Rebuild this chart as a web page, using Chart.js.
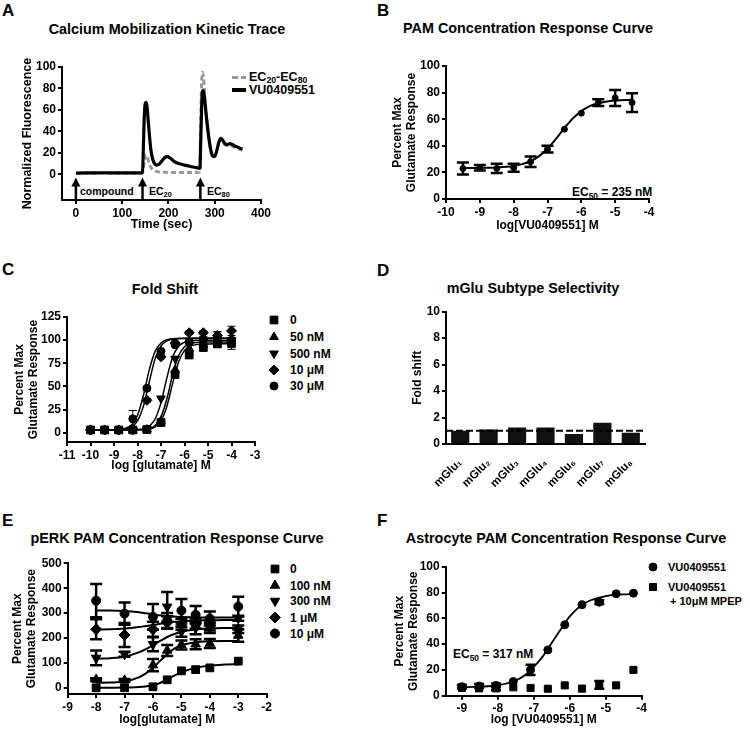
<!DOCTYPE html>
<html>
<head>
<meta charset="utf-8">
<script src="https://cdn.jsdelivr.net/npm/chart.js@4.4.1/dist/chart.umd.min.js"></script>
<style>
  html, body { margin: 0; padding: 0; background: #fff; }
  body { width: 750px; height: 731px; position: relative; overflow: hidden;
         font-family: "Liberation Sans", Arial, sans-serif; font-weight: bold; color: #000; }
  canvas { position: absolute; }
  .t { position: absolute; white-space: nowrap; line-height: 1; }
  .letter { font-size: 17px; transform: translateY(-50%); }
  .title { font-size: 14.4px; transform: translate(-50%, -50%); }
  .lab { font-size: 12px; transform: translateY(-50%); }
  .small { font-size: 10.5px; }
  sub { font-size: 70%; vertical-align: -0.3em; line-height: 0; }
  .swatch { position: absolute; height: 3px; width: 14px; }
</style>
</head>
<body>

<!-- panel letters -->
<div class="t letter" style="left:2px;top:10px">A</div>
<div class="t letter" style="left:377px;top:10px">B</div>
<div class="t letter" style="left:2px;top:269px">C</div>
<div class="t letter" style="left:377px;top:270px">D</div>
<div class="t letter" style="left:2px;top:520px">E</div>
<div class="t letter" style="left:377px;top:520px">F</div>

<!-- panel titles -->
<div class="t title" style="left:167px;top:29px">Calcium Mobilization Kinetic Trace</div>
<div class="t title" style="left:528px;top:28px">PAM Concentration Response Curve</div>
<div class="t title" style="left:165px;top:289px">Fold Shift</div>
<div class="t title" style="left:533px;top:288px">mGlu Subtype Selectivity</div>
<div class="t title" style="left:177px;top:538px">pERK PAM Concentration Response Curve</div>
<div class="t title" style="left:566px;top:538px">Astrocyte PAM Concentration Response Curve</div>

<!-- A legend and addition labels -->
<div class="swatch" style="left:232px;top:76px;background:repeating-linear-gradient(90deg,#999 0 6px,transparent 6px 9px)"></div>
<div class="t lab" style="left:249px;top:77px;font-size:12.5px">EC<sub>20</sub>-EC<sub>80</sub></div>
<div class="swatch" style="left:232px;top:88px;height:3.5px;background:#000"></div>
<div class="t lab" style="left:249px;top:90px;font-size:12.5px">VU0409551</div>
<div class="t lab small" style="left:80px;top:191px">compound</div>
<div class="t lab small" style="left:149px;top:191px">EC<sub>20</sub></div>
<div class="t lab small" style="left:207px;top:191px">EC<sub>80</sub></div>

<!-- B / F potency notes -->
<div class="t lab" style="left:572px;top:192px">EC<sub>50</sub> = 235 nM</div>
<div class="t lab" style="left:453px;top:654px">EC<sub>50</sub> = 317 nM</div>

<!-- C legend labels -->
<div class="t lab" style="left:290px;top:320px">0</div>
<div class="t lab" style="left:290px;top:337px">50 nM</div>
<div class="t lab" style="left:290px;top:353.5px">500 nM</div>
<div class="t lab" style="left:290px;top:370px">10 μM</div>
<div class="t lab" style="left:290px;top:386px">30 μM</div>

<!-- E legend labels -->
<div class="t lab" style="left:290px;top:569px">0</div>
<div class="t lab" style="left:290px;top:585.5px">100 nM</div>
<div class="t lab" style="left:290px;top:601px">300 nM</div>
<div class="t lab" style="left:290px;top:617.5px">1 μM</div>
<div class="t lab" style="left:290px;top:633.5px">10 μM</div>

<!-- F legend labels -->
<div class="t lab" style="left:668px;top:567px;font-size:11px">VU0409551</div>
<div class="t lab" style="left:668px;top:587px;font-size:11px">VU0409551</div>
<div class="t lab" style="left:670px;top:601px;font-size:11px">+ 10μM MPEP</div>

<script>
// ---------- A: calcium kinetic trace ----------
const kineticTimeVU = [0, 20, 40, 60, 80, 100, 120, 140, 144, 146, 148, 150, 152, 154, 156, 159, 162, 166,
  170, 175, 180, 186, 192, 198, 204, 212, 222, 235, 250, 262, 268, 270, 272, 274, 276, 278, 281, 285,
  289, 293, 297, 301, 305, 309, 313, 317, 321, 327, 333, 339, 345, 351, 356, 360];
const kineticVU = [1.0, 1.3, 1.2, 1.4, 1.2, 1.3, 1.2, 1.3, 1.6, 28, 56, 66, 67, 62, 51, 36, 23, 14,
  10, 8.5, 9.5, 12.5, 15.5, 16.5, 15, 12, 10, 8.5, 7, 6, 5.5, 35, 66, 78, 77, 71, 58, 42,
  29, 20, 16.5, 17.5, 23, 30, 33.5, 32, 29, 27.5, 28.5, 27.5, 26, 25, 24, 23.5];
const kineticTimeEC = [0, 20, 40, 60, 80, 100, 120, 140, 144, 147, 150, 152, 154, 157, 161, 166, 172, 180,
  195, 220, 245, 266, 268, 270, 272, 274, 276, 278, 281, 285, 289, 293, 297, 301, 305, 309, 313, 317,
  321, 327, 333, 339, 345, 351, 356, 360];
const kineticEC = [0.8, 1.0, 0.9, 1.1, 1.0, 1.0, 0.9, 1.0, 1.4, 9, 16, 18, 17, 12, 7, 4.5, 3, 2.2,
  1.8, 1.6, 1.6, 1.8, 6, 55, 88, 95, 89, 76, 58, 41, 28, 19, 15.5, 17, 22.5, 29.5, 32.5, 31,
  28, 26.5, 27, 26, 24.5, 23.5, 23, 22.5];
const additionTimes = [0, 144, 269];
const kineticTicksX = [0, 100, 200, 300, 400];
const kineticTicksY = [0, 20, 40, 60, 80, 100];

// ---------- B: PAM concentration response ----------
const crcLog = [-9.5, -9, -8.5, -8, -7.5, -7, -6.5, -6, -5.5, -5, -4.5];
const crcResp = [23, 23.5, 23, 23.5, 28, 37.5, 52.5, 64.5, 72.5, 76, 72.5];
const crcErr = [4.5, 2, 3.5, 3, 4, 2.5, 0, 0, 2.5, 6, 7];
const crcFitLog = [-9.5, -9, -8.5, -8, -7.75, -7.5, -7.25, -7, -6.75, -6.5, -6.25, -6, -5.75, -5.5, -5, -4.5];
const crcFit = [23.3, 23.4, 23.7, 24.8, 26.2, 28.4, 32.2, 37.8, 45.2, 53.3, 60.6, 66.1, 69.8, 72, 74, 74.6];

// ---------- C: fold shift ----------
const shiftLog = [-10, -9.4, -8.8, -8.2, -7.6, -7.0, -6.4, -5.8, -5.2, -4.6, -4.0];
const shift0 = [3, 3, 3, 3, 3.5, 11, 63, 84, 92, 96, 97];
const shift50n = [3, 3, 3, 3, 3.5, 13, 68, 91, 95, 98, 99];
const shift500n = [3, 3, 3, 3, 4, 37, 80, 95, 99, 100, 100];
const shift10u = [3, 3, 3, 4, 35, 82, 97, 108, 108, 105, 110];
const shift30u = [3, 3, 3, 15, 48, 88, 95, 98, 101, 103, 100];
const shiftErr0 = [0, 0, 0, 0, 0, 2, 3, 3, 3, 4, 5];
const shiftErr10u = [0, 0, 0, 0, 2, 2, 2, 2, 2, 4, 5];
const shiftErr30u = [0, 0, 0, 9, 2, 2, 2, 2, 3, 6, 10];
const shiftFitLog = [-10, -9, -8.5, -8.25, -8, -7.75, -7.5, -7.25, -7, -6.75, -6.5, -6.25, -6, -5.75, -5.5, -5, -4.5, -4];
const shiftFit0 = [3, 3, 3, 3, 3.1, 3.4, 4.1, 6.4, 13, 28.6, 53.8, 76.6, 88.9, 93.6, 95.2, 95.9, 96, 96];
const shiftFit50n = [3, 3, 3, 3, 3.2, 3.5, 4.6, 7.9, 17.1, 36.7, 63.3, 83.4, 92.8, 96.3, 97.5, 98, 98, 98];
const shiftFit500n = [3, 3, 3, 3.1, 3.4, 4.3, 7.1, 14.8, 32.5, 59.3, 82, 93.4, 97.8, 99.3, 99.8, 100, 100, 100];
const shiftFit10u = [3, 3.1, 4.1, 6.3, 12.8, 28.5, 54.8, 79.8, 93.7, 99.2, 101.1, 101.7, 101.9, 102, 102, 102, 102, 102];
const shiftFit30u = [3, 3.2, 4.9, 8.6, 18.8, 40.2, 67.9, 87.9, 97, 100.4, 101.5, 101.8, 102, 102, 102, 102, 102, 102];

// ---------- D: subtype selectivity ----------
const mGluSubtypes = ['mGlu₁', 'mGlu₂', 'mGlu₃', 'mGlu₄', 'mGlu₆', 'mGlu₇', 'mGlu₈'];
const foldShift = [1.0, 1.1, 1.25, 1.25, 0.75, 1.6, 0.85];
const noShift = 1;

// ---------- E: pERK ----------
const perkLog = [-8, -7, -6, -5.5, -5, -4.5, -4, -3];
const perk0 = [0, 0, 4, 32, 68, 73, 80, 107];
const perk100n = [33, 30, 91, 150, 172, 175, 178, 210];
const perk300n = [120, 135, 175, 325, 225, 240, 240, 279];
const perk1u = [235, 212, 235, 262, 255, 258, 250, 235];
const perk10u = [350, 298, 285, 270, 310, 293, 278, 326];
const perkErr100n = [5, 5, 25, 22, 18, 20, 18, 25];
const perkErr300n = [30, 10, 28, 60, 20, 25, 20, 10];
const perkErr1u = [40, 48, 30, 25, 22, 20, 20, 15];
const perkErr10u = [67, 45, 52, 30, 47, 35, 28, 40];
const perkFitLog = [-8, -7.5, -7, -6.5, -6.25, -6, -5.75, -5.5, -5.25, -5, -4.5, -4, -3.5, -3];
const perkFit0 = [0, 0.2, 0.8, 3, 5.5, 10, 19, 33, 49, 63, 80, 89, 93, 95];
const perkFit100n = [20, 21, 25, 42, 58, 80, 108, 135, 157, 171, 183, 187, 188, 188];
const perkFit300n = [117, 119, 125, 142, 155, 171, 188, 204, 216, 225, 234, 238, 240, 240];
const perkFit1u = [234, 235, 238, 244, 248, 252, 257, 261, 265, 267, 270, 271, 272, 272];
const perkFit10u = [310, 310, 308, 303, 299, 295, 291, 288, 286, 284, 283, 282, 282, 282];

// ---------- F: astrocytes ----------
const astroLog = [-9.0, -8.52, -8.05, -7.57, -7.09, -6.61, -6.14, -5.66, -5.18, -4.71, -4.23];
const astroVU = [7, 7.5, 8, 11, 20, 35.5, 55, 70.5, 72.5, 79, 79.5];
const astroVUErr = [1.5, 1.5, 1.5, 0, 4, 0, 0, 0, 1.5, 0, 0];
const astroMPEP = [6, 5.7, 5.7, 6.5, 6, 5.4, 8, 5.5, 8.3, 8, 20];
const astroMPEPErr = [0, 0, 1.5, 0, 0, 0, 0, 0, 3, 0, 0];
const astroFitLog = [-9.05, -8.5, -8, -7.5, -7.25, -7, -6.75, -6.5, -6.25, -6, -5.75, -5.5, -5, -4.5, -4.25];
const astroFit = [6.6, 7.0, 8.1, 11.8, 15.9, 22.4, 30.5, 41, 51.5, 61.5, 68.5, 73, 77.2, 78.5, 78.8];

// ================================================================
Chart.defaults.font.family = '"Liberation Sans", Arial, sans-serif';
Chart.defaults.font.weight = 'bold';
Chart.defaults.color = '#000';
Chart.defaults.animation = false;
Chart.defaults.plugins.legend.display = false;
Chart.defaults.plugins.tooltip.enabled = false;

const pts = (xs, ys) => xs.map((x, i) => ({ x, y: ys[i] }));

// vertical SEM bars, drawn through the y scale
const errorBars = {
    id: 'errorBars',
    afterDatasetsDraw(chart) {
        const ctx = chart.ctx;
        chart.data.datasets.forEach((ds, i) => {
            if (!ds.errors) return;
            const meta = chart.getDatasetMeta(i);
            const yScale = chart.scales[meta.yAxisID];
            const cap = ds.capHalf || 4;
            ctx.save();
            ctx.strokeStyle = '#000';
            ctx.lineWidth = ds.errorWidth || 1;
            meta.data.forEach((pt, j) => {
                const e = ds.errors[j];
                if (!e) return;
                const v = ds.data[j].y;
                const top = yScale.getPixelForValue(v + e);
                const bot = yScale.getPixelForValue(v - e);
                ctx.beginPath();
                ctx.moveTo(pt.x, top); ctx.lineTo(pt.x, bot);
                ctx.moveTo(pt.x - cap, top); ctx.lineTo(pt.x + cap, top);
                ctx.moveTo(pt.x - cap, bot); ctx.lineTo(pt.x + cap, bot);
                ctx.stroke();
            });
            ctx.restore();
        });
    }
};

// addition arrows (A) and the no-shift line (D)
const extras = {
    id: 'extras',
    afterDatasetsDraw(chart, args, opts) {
        const { ctx, chartArea, scales } = chart;
        ctx.save();
        ctx.strokeStyle = '#000';
        ctx.fillStyle = '#000';
        if (opts.baseline != null) {
            const py = scales.y.getPixelForValue(opts.baseline);
            ctx.setLineDash([7, 3]);
            ctx.lineWidth = 2;
            ctx.beginPath();
            ctx.moveTo(chartArea.left, py);
            ctx.lineTo(chartArea.right, py);
            ctx.stroke();
        }
        if (opts.arrows) {
            const tip = scales.y.getPixelForValue(opts.arrowTip);
            opts.arrows.forEach(t => {
                const px = scales.x.getPixelForValue(t);
                ctx.lineWidth = 2.5;
                ctx.beginPath();
                ctx.moveTo(px, chartArea.bottom);
                ctx.lineTo(px, tip + 6);
                ctx.stroke();
                ctx.beginPath();
                ctx.moveTo(px, tip);
                ctx.lineTo(px - 4.5, tip + 9);
                ctx.lineTo(px + 4.5, tip + 9);
                ctx.closePath();
                ctx.fill();
            });
        }
        ctx.restore();
    }
};

// legend symbols, drawn with the dataset's own point style
const keyMarks = {
    id: 'keyMarks',
    afterDraw(chart, args, opts) {
        if (!opts.rows) return;
        const ctx = chart.ctx;
        const dx = chart.canvas.offsetLeft, dy = chart.canvas.offsetTop;
        const keyed = chart.data.datasets.filter(ds => ds.keyed);
        ctx.save();
        ctx.fillStyle = '#000';
        ctx.strokeStyle = '#000';
        ctx.lineWidth = 1;
        keyed.forEach((ds, i) => {
            Chart.helpers.drawPoint(ctx, {
                pointStyle: ds.pointStyle,
                rotation: ds.pointRotation || 0,
                radius: ds.pointRadius,
                borderWidth: 1
            }, opts.x - dx, opts.rows[i] - dy);
        });
        ctx.restore();
    }
};

Chart.register(errorBars, extras, keyMarks);

function axis(min, max, ticks, title, titleSize) {
    return {
        type: 'linear', min, max,
        afterBuildTicks: a => { a.ticks = ticks.map(v => ({ value: v })); },
        border: { color: '#000', width: 2 },
        grid: { drawOnChartArea: false, color: '#000', lineWidth: 2, tickLength: 4 },
        ticks: { font: { size: 12, weight: 'bold' }, color: '#000', padding: 2,
                 autoSkip: false, maxRotation: 0, callback: v => String(v) },
        title: { display: !!title, text: title, color: '#000', padding: 0,
                 font: { size: titleSize || 12, weight: 'bold', lineHeight: 1.17 } }
    };
}

function mount(rect, plot, yTitleX, xTitleY, config, titleSize) {
    const half = (titleSize || 12) * 1.17 / 2;
    const padLeft = yTitleX - half - rect.x;
    const edge = xTitleY == null ? rect.y + rect.h - 4 : xTitleY + half;
    const yWidth = plot.l - rect.x - padLeft;
    const xHeight = edge - plot.b;
    const canvas = document.createElement('canvas');
    canvas.width = rect.w;
    canvas.height = rect.h;
    canvas.style.left = rect.x + 'px';
    canvas.style.top = rect.y + 'px';
    document.body.appendChild(canvas);
    const o = config.options;
    o.responsive = false;
    o.layout = { padding: { left: padLeft, top: plot.t - rect.y,
                            right: rect.x + rect.w - plot.r, bottom: rect.y + rect.h - edge } };
    o.scales.x.afterFit = s => { s.height = xHeight; };
    o.scales.y.afterFit = s => { s.width = yWidth; };
    return new Chart(canvas, config);
}

const curve = (xs, ys, w) => ({
    type: 'line', data: pts(xs, ys), borderColor: '#000', borderWidth: w,
    pointRadius: 0, cubicInterpolationMode: 'monotone', order: 1
});
const marks = (xs, ys, style, r, extra) => Object.assign({
    type: 'line', data: pts(xs, ys), showLine: false, pointStyle: style, pointRadius: r,
    pointBackgroundColor: '#000', pointBorderColor: '#000', pointBorderWidth: 1, order: 0
}, extra || {});

// ---------- A ----------
mount({ x: 0, y: 0, w: 375, h: 240 }, { l: 62, r: 261, t: 67, b: 200 }, 28, 225, {
    type: 'line',
    data: { datasets: [
        { data: pts(kineticTimeVU, kineticVU), borderColor: '#000', borderWidth: 3.2,
          pointRadius: 0, cubicInterpolationMode: 'monotone' },
        { data: pts(kineticTimeEC, kineticEC), borderColor: '#999', borderWidth: 3,
          borderDash: [5, 3], pointRadius: 0, cubicInterpolationMode: 'monotone' }
    ] },
    options: {
        scales: {
            x: axis(-30, 400, kineticTicksX, 'Time (sec)', 12.5),
            y: axis(-24, 100, kineticTicksY, 'Normalized Fluorescence', 12.5)
        },
        plugins: { extras: { arrows: additionTimes, arrowTip: -3 } }
    }
}, 12.5);

// ---------- B ----------
mount({ x: 375, y: 0, w: 375, h: 240 }, { l: 446, r: 649, t: 66, b: 199 }, 398, 226, {
    type: 'line',
    data: { datasets: [
        marks(crcLog, crcResp, 'circle', 3, { errors: crcErr, errorWidth: 2.5, capHalf: 6 }),
        curve(crcFitLog, crcFit, 2)
    ] },
    options: {
        scales: {
            x: axis(-10, -4, [-10, -9, -8, -7, -6, -5, -4], 'log[VU0409551] M'),
            y: axis(0, 100, [0, 20, 40, 60, 80, 100], ['Percent Max', 'Glutamate Response'])
        }
    }
});

// ---------- C ----------
mount({ x: 0, y: 240, w: 375, h: 240 }, { l: 67, r: 255, t: 317, b: 442 }, 20, 466, {
    type: 'line',
    data: { datasets: [
        marks(shiftLog, shift0, 'rect', 5.5, { keyed: true, errors: shiftErr0, capHalf: 4 }),
        marks(shiftLog, shift50n, 'triangle', 5, { keyed: true }),
        marks(shiftLog, shift500n, 'triangle', 5, { keyed: true, pointRotation: 180 }),
        marks(shiftLog, shift10u, 'rectRot', 5, { keyed: true, errors: shiftErr10u, capHalf: 4 }),
        marks(shiftLog, shift30u, 'circle', 4, { keyed: true, errors: shiftErr30u, capHalf: 4 }),
        curve(shiftFitLog, shiftFit0, 1.5),
        curve(shiftFitLog, shiftFit50n, 1.5),
        curve(shiftFitLog, shiftFit500n, 1.5),
        curve(shiftFitLog, shiftFit10u, 1.5),
        curve(shiftFitLog, shiftFit30u, 1.5)
    ] },
    options: {
        scales: {
            x: axis(-11, -3, [-11, -10, -9, -8, -7, -6, -5, -4, -3], 'log [glutamate] M'),
            y: axis(-10, 125, [0, 25, 50, 75, 100, 125], ['Percent Max', 'Glutamate Response'])
        },
        plugins: { keyMarks: { x: 274, rows: [320, 337, 353.5, 370, 386] } }
    }
});

// ---------- D ----------
const dY = axis(0, 10, [0, 2, 4, 6, 8, 10], 'Fold shift');
mount({ x: 375, y: 240, w: 375, h: 262 }, { l: 446, r: 645, t: 311.7, b: 444 }, 418, null, {
    type: 'bar',
    data: { labels: mGluSubtypes, datasets: [
        { data: foldShift, backgroundColor: '#111', barPercentage: 0.64, categoryPercentage: 1 }
    ] },
    options: {
        scales: {
            x: { type: 'category', border: { color: '#000', width: 2 }, grid: { display: false },
                 ticks: { font: { size: 11.5, weight: 'bold' }, color: '#000', padding: 4,
                          autoSkip: false, maxRotation: 45, minRotation: 45 } },
            y: dY
        },
        plugins: { extras: { baseline: noShift } }
    }
});

// ---------- E ----------
mount({ x: 0, y: 480, w: 375, h: 251 }, { l: 67.7, r: 266.7, t: 563.3, b: 694 }, 18, 720, {
    type: 'line',
    data: { datasets: [
        marks(perkLog, perk0, 'rect', 5.5, { keyed: true }),
        marks(perkLog, perk100n, 'triangle', 5.5, { keyed: true, errors: perkErr100n, errorWidth: 2.5, capHalf: 6 }),
        marks(perkLog, perk300n, 'triangle', 5.5, { keyed: true, pointRotation: 180, errors: perkErr300n, errorWidth: 2.5, capHalf: 6 }),
        marks(perkLog, perk1u, 'rectRot', 5.5, { keyed: true, errors: perkErr1u, errorWidth: 2.5, capHalf: 6 }),
        marks(perkLog, perk10u, 'circle', 4.5, { keyed: true, errors: perkErr10u, errorWidth: 2.5, capHalf: 6 }),
        curve(perkFitLog, perkFit0, 2),
        curve(perkFitLog, perkFit100n, 2),
        curve(perkFitLog, perkFit300n, 2),
        curve(perkFitLog, perkFit1u, 2),
        curve(perkFitLog, perkFit10u, 2)
    ] },
    options: {
        scales: {
            x: axis(-9, -2, [-9, -8, -7, -6, -5, -4, -3, -2], 'log[glutamate] M'),
            y: axis(-25, 500, [0, 100, 200, 300, 400, 500], ['Percent Max', 'Glutamate Response'])
        },
        plugins: { keyMarks: { x: 275, rows: [569, 585.5, 601, 617.5, 633.5] } }
    }
});

// ---------- F ----------
mount({ x: 375, y: 480, w: 375, h: 251 }, { l: 445.7, r: 641.7, t: 566.7, b: 695.7 }, 400, 720, {
    type: 'line',
    data: { datasets: [
        marks(astroLog, astroVU, 'circle', 4, { keyed: true, errors: astroVUErr, errorWidth: 2.5, capHalf: 5 }),
        marks(astroLog, astroMPEP, 'rect', 5, { keyed: true, errors: astroMPEPErr, errorWidth: 2.5, capHalf: 5 }),
        curve(astroFitLog, astroFit, 1.8)
    ] },
    options: {
        scales: {
            x: axis(-9.45, -4, [-9, -8, -7, -6, -5, -4], 'log [VU0409551] M'),
            y: axis(0, 100, [0, 20, 40, 60, 80, 100], ['Percent Max', 'Glutamate Response'])
        },
        plugins: { keyMarks: { x: 653, rows: [567, 587] } }
    }
});
</script>
</body>
</html>
